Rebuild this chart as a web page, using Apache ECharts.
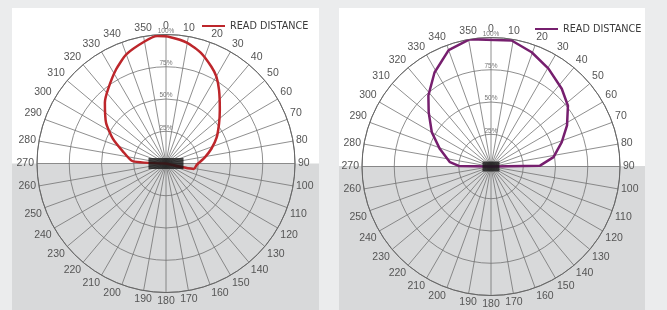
<!DOCTYPE html>
<html>
<head>
<meta charset="utf-8">
<script src="https://cdn.jsdelivr.net/npm/echarts@6/dist/echarts.min.js"></script>
<style>
html,body{margin:0;padding:0;background:#ebeced;}
#c{width:667px;height:310px;}
</style>
</head>
<body>
<div id="c"></div>
<script>
// Angle tick labels (degrees, clockwise from top)
const angleTicks = [0,10,20,30,40,50,60,70,80,90,100,110,120,130,140,150,160,170,180,190,200,210,220,230,240,250,260,270,280,290,300,310,320,330,340,350];
// Radius tick labels (percent)
const radiusTicks = ['', '25%', '50%', '75%', '100%'];
const legendText = 'READ DISTANCE';

// Left chart (red) read-distance pattern: angle (deg) and radius (%)
const redAngles = [100, 101, 92, 88, 81, 72, 63, 53, 45, 36, 30, 25, 17.5, 10, 2, 356, 350, 340, 332, 322, 315, 304, 295, 286, 274, 270];
const redValues = [0, 22, 24, 26, 30.5, 37, 44, 51.5, 59, 70, 78, 83, 90, 95, 98, 99, 96, 90, 82.5, 73, 67, 56, 45.5, 35, 26, 0];

// Right chart (purple) read-distance pattern
const purpleAngles = [270, 271, 276, 289, 300, 311, 318.6, 329, 340, 350.6, 9.3, 19.6, 30.4, 42.3, 51.7, 61.6, 71, 81.5, 89, 90];
const purpleValues = [0, 25, 32, 42, 53, 64, 73.4, 85, 96, 100, 99, 94, 88, 81.5, 76, 67, 58, 49, 38, 0];

function pairs(vals, angs){ return vals.map((v,i)=>[v, angs[i]]); }

const chart = echarts.init(document.getElementById('c'), null, {renderer:'canvas'});

const labelColor = '#555';
const gridColor = '#727272';

function angleAxisOpt(idx){
  return {
    polarIndex: idx, type:'value', min:0, max:360, interval:10, startAngle:90, clockwise:true,
    axisLine:{show:true, lineStyle:{color:'#666', width:1}},
    axisTick:{show:false},
    axisLabel:{show:true, margin:3, color:labelColor, fontSize:10.5, fontFamily:'Liberation Sans',
      formatter: function(v){ const i = angleTicks.indexOf(v); return i>=0 ? String(angleTicks[i]) : ''; }},
    splitLine:{show:true, lineStyle:{color:gridColor, width:0.8}}
  };
}
function radiusAxisOpt(idx){
  return {
    polarIndex: idx, type:'value', min:0, max:100, interval:25,
    axisLine:{show:false}, axisTick:{show:false},
    axisLabel:{show:true, margin:0, fontSize:6.5, color:'#777', fontFamily:'Liberation Sans',
      align:'center', verticalAlign:'bottom', rotate:0,
      formatter: function(v){ return radiusTicks[Math.round(v/25)] || ''; }},
    splitLine:{show:true, lineStyle:{color:gridColor, width:0.8}}
  };
}

const option = {
  backgroundColor:'#ebeced',
  animation:false,
  graphic:{elements:[
    {type:'rect', z:-100, shape:{x:12,y:8,width:307,height:302}, style:{fill:'#ffffff'}},
    {type:'rect', z:-99, shape:{x:12,y:163.5,width:307,height:147}, style:{fill:'#d8d9da'}},
    {type:'rect', z:-100, shape:{x:339,y:8,width:306,height:302}, style:{fill:'#ffffff'}},
    {type:'rect', z:-99, shape:{x:339,y:166,width:306,height:144}, style:{fill:'#d8d9da'}}
  ]},
  polar:[
    {center:[166,163.5], radius:129},
    {center:[491,166.5], radius:129}
  ],
  angleAxis:[angleAxisOpt(0), angleAxisOpt(1)],
  radiusAxis:[radiusAxisOpt(0), radiusAxisOpt(1)],
  legend:[
    {data:[{name:'left', icon:'rect'}], left:197, top:16, itemWidth:23, itemHeight:2, formatter:()=>legendText,
      textStyle:{color:'#3a3a3a', fontSize:9.7, fontFamily:'DejaVu Sans'}},
    {data:[{name:'right', icon:'rect'}], left:530, top:19, itemWidth:23, itemHeight:2, formatter:()=>legendText,
      textStyle:{color:'#3a3a3a', fontSize:9.7, fontFamily:'DejaVu Sans'}}
  ],
  series:[
    {name:'left', type:'line', coordinateSystem:'polar', polarIndex:0, data:pairs(redValues, redAngles),
      showSymbol:false, symbol:'none', smooth:0.2, lineStyle:{color:'#bd262b', width:2.5}, itemStyle:{color:'#bd262b'}, z:3},
    {name:'right', type:'line', coordinateSystem:'polar', polarIndex:1, data:pairs(purpleValues, purpleAngles),
      showSymbol:false, symbol:'none', lineStyle:{color:'#761f6e', width:2.5}, itemStyle:{color:'#761f6e'}, z:3},
    {name:'tagL', type:'scatter', coordinateSystem:'polar', polarIndex:0, data:[[0,0]],
      symbol:'rect', symbolSize:[35,11], itemStyle:{color:'#151515'}, z:5, silent:true},
    {name:'tagR', type:'scatter', coordinateSystem:'polar', polarIndex:1, data:[[0,0]],
      symbol:'rect', symbolSize:[17,10], itemStyle:{color:'#151515'}, z:5, silent:true}
  ]
};
chart.setOption(option);
</script>
</body>
</html>
